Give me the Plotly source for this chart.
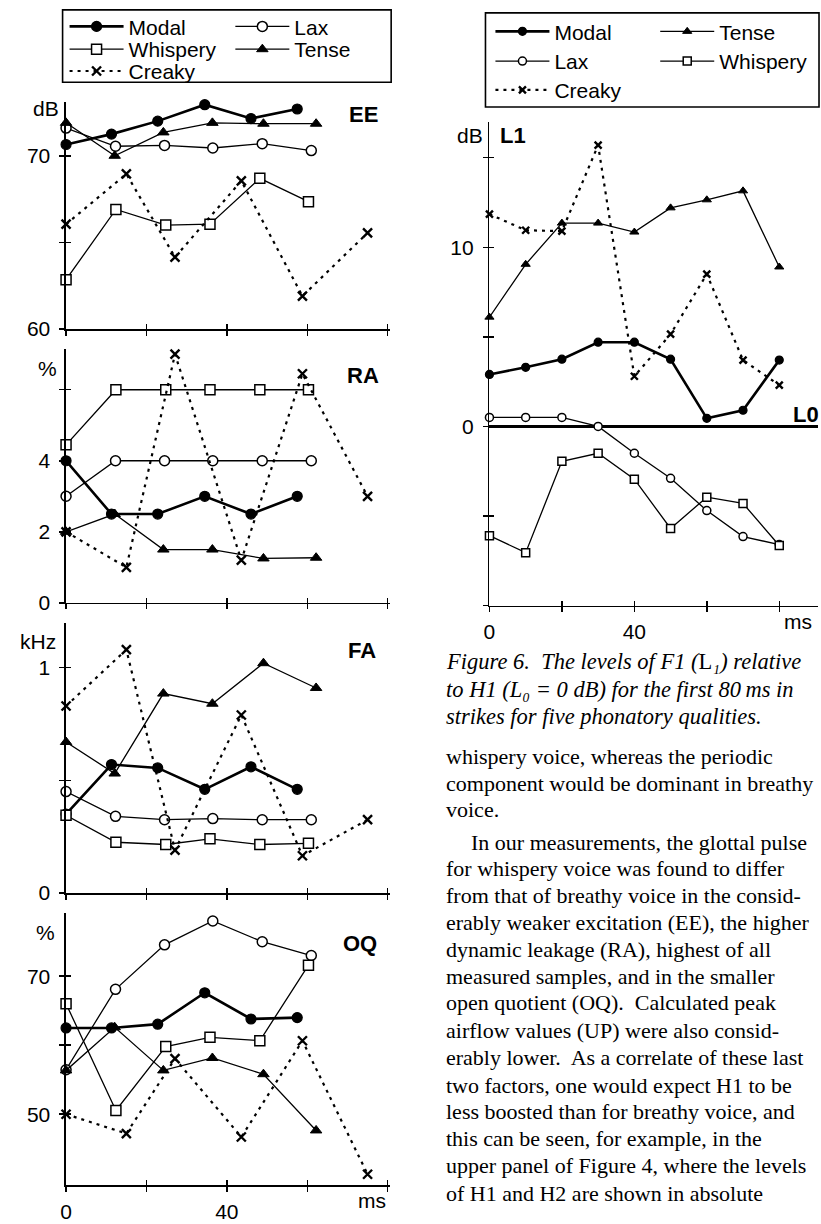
import plotly.graph_objects as go

# ---------------- data ----------------
# times (ms) of the analysed glottal pulses for each phonation type
t_modal = [0, 11.3, 22.8, 34.5, 46.0, 57.5]
t_lax = [0, 12.3, 24.5, 36.5, 48.8, 61.0]
t_whispery = [0, 12.4, 24.8, 35.8, 48.2, 60.3]
t_tense = [0, 12.1, 24.2, 36.4, 49.1, 62.2]
t_creaky = [0, 15.0, 27.1, 43.6, 58.8, 75.0]

# EE: excitation strength (dB)
ee_modal = [70.65, 71.25, 72.0, 72.95, 72.15, 72.7]
ee_lax = [71.6, 70.55, 70.6, 70.45, 70.7, 70.3]
ee_whispery = [62.85, 66.9, 66.0, 66.05, 68.7, 67.35]
ee_tense = [71.9, 70.0, 71.35, 71.9, 71.85, 71.85]
ee_creaky = [66.05, 68.95, 64.15, 68.55, 61.9, 65.55]

# RA: dynamic leakage (%)
ra_modal = [4.0, 2.5, 2.5, 3.0, 2.5, 3.0]
ra_lax = [3.0, 4.0, 4.0, 4.0, 4.0, 4.0]
ra_whispery = [4.45, 6.0, 6.0, 6.0, 6.0, 6.0]
ra_tense = [2.0, 2.5, 1.5, 1.5, 1.25, 1.27]
ra_creaky = [2.0, 1.0, 7.0, 1.2, 6.45, 3.0]

# FA (kHz)
fa_modal = [0.35, 0.57, 0.555, 0.46, 0.56, 0.46]
fa_lax = [0.45, 0.34, 0.325, 0.33, 0.325, 0.325]
fa_whispery = [0.345, 0.225, 0.215, 0.24, 0.215, 0.22]
fa_tense = [0.67, 0.53, 0.885, 0.84, 1.02, 0.91]
fa_creaky = [0.83, 1.08, 0.19, 0.79, 0.165, 0.325]

# OQ: open quotient (%)
oq_modal = [62.5, 62.5, 63.05, 67.6, 63.8, 64.0]
oq_lax = [56.45, 68.1, 74.55, 78.0, 75.0, 73.0]
oq_whispery = [66.0, 50.55, 59.8, 61.15, 60.65, 71.6]
oq_tense = [56.35, 62.6, 56.35, 58.15, 55.8, 47.65]
oq_creaky = [50.0, 47.2, 58.05, 46.7, 60.65, 41.3]

# L1 relative to L0 (dB), sampled every 10 ms
t_l1 = [0, 10, 20, 30, 40, 50, 60, 70, 80]
l1_modal = [2.9, 3.3, 3.75, 4.7, 4.7, 3.75, 0.45, 0.9, 3.7]
l1_tense = [6.1, 9.05, 11.35, 11.35, 10.85, 12.2, 12.65, 13.15, 8.9]
l1_lax = [0.5, 0.5, 0.5, 0.0, -1.5, -2.9, -4.7, -6.15, -6.6]
l1_whispery = [-6.1, -7.05, -1.95, -1.5, -2.95, -5.7, -3.95, -4.3, -6.65]
l1_creaky = [11.85, 10.95, 10.9, 15.7, 2.8, 5.15, 8.5, 3.7, 2.3]

# ---------------- page geometry helpers ----------------
W, H = 821, 1224
FONT = "Liberation Sans, Arial, Helvetica, sans-serif"
SERIF = "Liberation Serif, Times New Roman, DejaVu Serif, serif"


def fx(p):
    return p / W


def fy(p):
    return 1 - p / H


def sfx(i):
    return "" if i == 1 else str(i)


STYLE = {
    "Modal": dict(symbol="circle", fill="black", lw=2.6, dash="solid", mlw=1.2),
    "Lax": dict(symbol="circle", fill="white", lw=1.3, dash="solid", mlw=1.5),
    "Whispery": dict(symbol="square", fill="white", lw=1.3, dash="solid", mlw=1.5),
    "Tense": dict(symbol="triangle-up", fill="black", lw=1.3, dash="solid", mlw=1.0),
    "Creaky": dict(symbol="x-thin", fill="black", lw=2.2, dash="3px,5px", mlw=2.4),
}

fig = go.Figure()


def add_series(name, x, y, ax, size, legend=None):
    st = STYLE[name]
    msize = size - 1 if name == "Creaky" else size
    fig.add_trace(go.Scatter(
        x=x, y=y, name=name, mode="lines+markers",
        xaxis="x" + sfx(ax), yaxis="y" + sfx(ax),
        line=dict(color="black", width=st["lw"], dash=st["dash"]),
        marker=dict(symbol=st["symbol"], size=msize, color=st["fill"],
                    line=dict(color="black", width=st["mlw"])),
        showlegend=legend is not None, legend=legend or "legend",
        hoverinfo="skip", cliponaxis=False,
    ))


left_times = {"Modal": t_modal, "Lax": t_lax, "Whispery": t_whispery,
              "Tense": t_tense, "Creaky": t_creaky}
left_panels = [
    {"Modal": ee_modal, "Lax": ee_lax, "Whispery": ee_whispery, "Tense": ee_tense, "Creaky": ee_creaky},
    {"Modal": ra_modal, "Lax": ra_lax, "Whispery": ra_whispery, "Tense": ra_tense, "Creaky": ra_creaky},
    {"Modal": fa_modal, "Lax": fa_lax, "Whispery": fa_whispery, "Tense": fa_tense, "Creaky": fa_creaky},
    {"Modal": oq_modal, "Lax": oq_lax, "Whispery": oq_whispery, "Tense": oq_tense, "Creaky": oq_creaky},
]
left_order = ["Modal", "Lax", "Whispery", "Tense", "Creaky"]
left_legends = {"Modal": "legend", "Lax": "legend2", "Whispery": "legend3",
                "Tense": "legend4", "Creaky": "legend5"}

for i, panel in enumerate(left_panels, start=1):
    for name in left_order:
        add_series(name, left_times[name], panel[name], i, 10,
                   left_legends[name] if i == 1 else None)

right_series = [("Modal", l1_modal, "legend6"), ("Tense", l1_tense, "legend7"),
                ("Lax", l1_lax, "legend8"), ("Whispery", l1_whispery, "legend9"),
                ("Creaky", l1_creaky, "legend10")]
for name, vals, lg in right_series:
    add_series(name, t_l1, vals, 5, 8, lg)

# ---------------- axes ----------------
TICKFONT = dict(family=FONT, size=21, color="black")
layout_axes = {}

# (index, x-domain px, x-range, x labels shown, top px, bottom px, y-range,
#  labelled y ticks, y labels, unlabelled y ticks)
panel_specs = [
    (1, (60.5, 386.5), (0, 80.5), False, 103, 332, (60, 73.1), [60, 70], ["60", "70"], [65]),
    (2, (60.5, 386.5), (0, 80.5), False, 351.7, 608.3, (0, 7.16), [0, 2, 4], ["0", "2", "4"], [6]),
    (3, (60.5, 386.5), (0, 80.5), False, 628.3, 901, (0, 1.2), [0, 1], ["0", "1"], [0.5]),
    (4, (60.5, 386.5), (0, 80.5), True, 921.7, 1195.7, (39.75, 79.1), [50, 70], ["50", "70"], [60]),
    (5, (487, 818), (0, 90.7), True, 123, 611, (-10, 17), [0, 10], ["0", "10"], [-10, -5, 5, 15]),
]
x_major = [0, 40]
x_labels = ["0", "40"]
x_minor = [20, 60, 80]

for idx, xdom, xr, xlab, top, bot, yr, yt, ytt, ymin in panel_specs:
    s = sfx(idx)
    common = dict(showgrid=False, zeroline=False, fixedrange=True,
                  tickcolor="black", tickwidth=1.5, ticklen=5, tickfont=TICKFONT)

    def minor(vals, side):
        return dict(tickvals=vals, ticks=side, ticklen=5, tickwidth=1.5,
                    tickcolor="black", showgrid=False)

    layout_axes["xaxis" + s] = dict(
        domain=[fx(xdom[0]), fx(xdom[1])], range=list(xr), anchor="y" + s,
        showline=True, linecolor="black", linewidth=1.6, ticks="outside",
        tickvals=x_major, ticktext=x_labels, showticklabels=xlab,
        minor=minor(x_minor, "outside"), ticklabelstandoff=2, **common)
    layout_axes["yaxis" + s] = dict(
        domain=[fy(bot), fy(top)], range=list(yr), anchor="x" + s,
        showline=True, linecolor="black", linewidth=1.6, ticks="outside",
        tickvals=yt, ticktext=ytt, minor=minor(ymin, "outside"),
        ticklabelstandoff=5, **common)
    # inner halves of the crossing tick marks
    o = str(idx + 10)
    layout_axes["xaxis" + o] = dict(
        overlaying="x" + s, anchor="y" + o, range=list(xr), showline=False,
        ticks="inside", tickvals=x_major, minor=minor(x_minor, "inside"),
        showticklabels=False, **common)
    layout_axes["yaxis" + o] = dict(
        overlaying="y" + s, anchor="x" + o, range=list(yr), showline=False,
        ticks="inside", tickvals=yt, minor=minor(ymin, "inside"),
        showticklabels=False, **common)
    fig.add_trace(go.Scatter(x=[], y=[], xaxis="x" + o, yaxis="y" + o,
                             showlegend=False, hoverinfo="skip"))

# L0 reference line
layout_axes["yaxis5"].update(zeroline=True, zerolinecolor="black", zerolinewidth=3)

# ---------------- legends ----------------
legend_items = [
    # legend id, sample-start px, row centre px
    ("legend", 68, 27), ("legend2", 235, 27), ("legend3", 68, 50),
    ("legend4", 235, 50), ("legend5", 68, 72),
    ("legend6", 497, 32), ("legend7", 663, 32), ("legend8", 497, 62),
    ("legend9", 663, 62), ("legend10", 497, 91),
]
legends = {}
for lid, xs, yc in legend_items:
    legends[lid] = dict(x=fx(xs - 9), y=fy(yc), xanchor="left", yanchor="middle",
                        orientation="h", bgcolor="rgba(0,0,0,0)", borderwidth=0,
                        itemwidth=54,
                        font=dict(family=FONT, size=21, color="black"),
                        itemclick=False, itemdoubleclick=False)

shapes = [
    dict(type="rect", xref="paper", yref="paper", x0=fx(57), x1=fx(388), y0=fy(10), y1=fy(83),
         line=dict(color="black", width=1.6)),
    dict(type="rect", xref="paper", yref="paper", x0=fx(483), x1=fx(819), y0=fy(13), y1=fy(108),
         line=dict(color="black", width=1.6)),
]

# ---------------- labels ----------------
annotations = []


def label(text, x, y, size=20, bold=False, xanchor="center", family=FONT):
    annotations.append(dict(
        text=f"<b>{text}</b>" if bold else text, x=fx(x), y=fy(y),
        xref="paper", yref="paper", xanchor=xanchor, yanchor="middle",
        showarrow=False, font=dict(family=family, size=size, color="black")))


label("dB", 40, 109, 21)
label("EE", 360, 116, 22, True)
label("%", 42, 372, 21)
label("RA", 360, 379, 22, True)
label("kHz", 32, 647, 21)
label("FA", 359, 656, 22, True)
label("%", 40, 941, 21)
label("OQ", 357, 952, 22, True)
label("ms", 369, 1211, 21)
label("dB", 467, 137, 21)
label("L1", 511, 137, 22, True)
label("L0", 821, 418, 22, True, xanchor="right")
label("ms", 798, 627, 21)

caption = [
    ("<i>Figure 6.\u00a0 The levels of F1 (</i>L<i>\u2081) relative</i>", 441, 675),
    ("<i>to H1 (L\u2080 = 0 dB) for the first 80\u2009ms in</i>", 441, 703),
    ("<i>strikes for five phonatory qualities.</i>", 441, 730),
]
body = [
    ("whispery voice, whereas the periodic", 441, 770),
    ("component would be dominant in breathy", 441, 798),
    ("voice.", 441, 824),
    ("In our measurements, the glottal pulse", 466, 857),
    ("for whispery voice was found to differ", 441, 883),
    ("from that of breathy voice in the consid-", 441, 911),
    ("erably weaker excitation (EE), the higher", 441, 938),
    ("dynamic leakage (RA), highest of all", 441, 965),
    ("measured samples, and in the smaller", 441, 992),
    ("open quotient (OQ).\u00a0 Calculated peak", 441, 1019),
    ("airflow values (UP) were also consid-", 441, 1047),
    ("erably lower.\u00a0 As a correlate of these last", 441, 1074),
    ("two factors, one would expect H1 to be", 441, 1102),
    ("less boosted than for breathy voice, and", 441, 1129),
    ("this can be seen, for example, in the", 441, 1156),
    ("upper panel of Figure 4, where the levels", 441, 1183),
    ("of H1 and H2 are shown in absolute", 441, 1211),
]
for text, x, base in caption:
    label(text, x, base - 7, 22.5, False, xanchor="left", family=SERIF)
for text, x, base in body:
    label(text, x, base - 7, 22, False, xanchor="left", family=SERIF)

fig.update_layout(
    width=W, height=H, margin=dict(l=0, r=0, t=0, b=0),
    paper_bgcolor="white", plot_bgcolor="white",
    shapes=shapes, annotations=annotations, **layout_axes, **legends,
)

fig.write_html("out.html", config={"displayModeBar": False, "staticPlot": True})
